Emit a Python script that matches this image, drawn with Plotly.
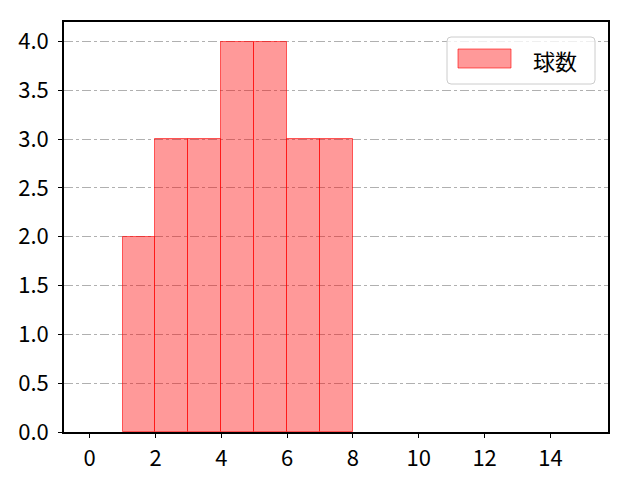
import plotly.graph_objects as go

bin_edges = [1, 2, 3, 4, 5, 6, 7, 8]
counts = [2, 3, 3, 4, 4, 3, 3]
series_name = "球数"
x_ticks = [0, 2, 4, 6, 8, 10, 12, 14]
y_ticks = [0.0, 0.5, 1.0, 1.5, 2.0, 2.5, 3.0, 3.5, 4.0]

centers = [(a + b) / 2 for a, b in zip(bin_edges[:-1], bin_edges[1:])]
widths = [b - a for a, b in zip(bin_edges[:-1], bin_edges[1:])]

FILL = "rgba(255,0,0,0.4)"
EDGE = "rgba(255,0,0,0.6)"

fig = go.Figure()
fig.add_trace(go.Bar(
    x=centers, y=counts, width=widths, name=series_name,
    marker=dict(color=FILL, line=dict(color=EDGE, width=1)),
    showlegend=False,
))

# page offset (body margin 8px) accounted for in margins
OFF = 8
L, R, T, B = 64 - OFF, 640 - 608 + OFF, 22 - OFF, 480 - 432 + OFF
PW, PH = 608 - 64, 432 - 22


def px2paper(px, py):
    return (px - 64) / PW, (432 - py) / PH


# manual legend (matplotlib-style box with wide patch)
x0, y0 = px2paper(447, 37)
x1, y1 = px2paper(595, 84)
rx, ry = 4 / PW, 4 / PH
path = (f"M {x0+rx},{y0} L {x1-rx},{y0} Q {x1},{y0} {x1},{y0-ry} "
        f"L {x1},{y1+ry} Q {x1},{y1} {x1-rx},{y1} L {x0+rx},{y1} "
        f"Q {x0},{y1} {x0},{y1+ry} L {x0},{y0-ry} Q {x0},{y0} {x0+rx},{y0} Z")
fig.add_shape(type="path", xref="paper", yref="paper", path=path,
              fillcolor="rgba(255,255,255,0.8)", line=dict(color="#cccccc", width=1), layer="above")
px0, py0 = px2paper(458, 49)
px1, py1 = px2paper(511, 68)
fig.add_shape(type="rect", xref="paper", yref="paper", x0=px0, y0=py0, x1=px1, y1=py1,
              fillcolor=FILL, line=dict(color=EDGE, width=1), layer="above")
tx, ty = px2paper(531, 60)
fig.add_annotation(xref="paper", yref="paper", x=tx, y=ty, text=series_name,
                   showarrow=False, xanchor="left", yanchor="middle",
                   font=dict(size=22, color="black"))

font = "Noto Sans CJK JP, DejaVu Sans, sans-serif"
fig.update_layout(
    width=640, height=480,
    margin=dict(l=L, r=R, t=T, b=B, autoexpand=False),
    paper_bgcolor="white", plot_bgcolor="white",
    font=dict(family=font, size=22, color="black"),
    bargap=0,
    showlegend=False,
    xaxis=dict(
        range=[-0.78, 15.75], tickvals=x_ticks, ticktext=[str(v) for v in x_ticks],
        showgrid=False, zeroline=False, showline=True, linecolor="black", linewidth=1.5,
        mirror=True, ticks="outside", ticklen=4, tickcolor="black", ticklabelstandoff=2,
        automargin=False,
    ),
    yaxis=dict(
        range=[0, 4.2], tickvals=y_ticks, ticktext=[f"{v:.1f}" for v in y_ticks],
        showgrid=True, gridcolor="#b0b0b0", griddash="dashdot", gridwidth=1,
        zeroline=False, showline=True, linecolor="black", linewidth=1.5,
        mirror=True, ticks="outside", ticklen=4, tickcolor="black", ticklabelstandoff=5,
        automargin=False,
    ),
)

fig.write_html("out.html")
